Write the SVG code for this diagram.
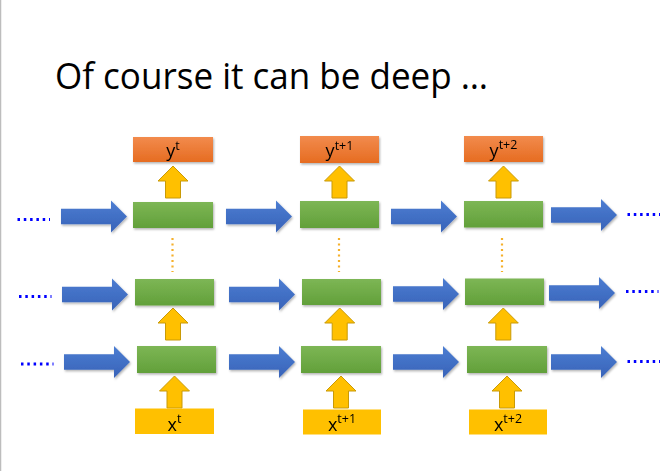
<svg xmlns="http://www.w3.org/2000/svg" xmlns:xlink="http://www.w3.org/1999/xlink" width="672" height="471" viewBox="0 0 672 471">
<style>
.title{font-family:"Open Sans","Noto Sans","Liberation Sans",sans-serif;font-size:37px;fill:#000}
.lbl{font-family:"Open Sans","Noto Sans","Liberation Sans",sans-serif;font-size:18px;fill:#000;text-anchor:middle}
.sup{font-size:12.5px}
.green{fill:url(#gGreen)}
.orange{fill:url(#gOrange)}
.xin{fill:#FFC000}
.blue{fill:url(#gBlue)}
.up{fill:#FFC000;stroke:#C99A06;stroke-width:1}
.dots{stroke:#0000FF;stroke-width:3;stroke-dasharray:2.5 3.8;fill:none}
.vdots{stroke:#F5B02A;stroke-width:2.2;stroke-dasharray:2 3.5;fill:none}
</style>
<defs>
<linearGradient id="gGreen" x1="0" y1="0" x2="0" y2="1"><stop offset="0" stop-color="#7DB655"/><stop offset="1" stop-color="#62A03A"/></linearGradient>
<linearGradient id="gOrange" x1="0" y1="0" x2="0" y2="1"><stop offset="0" stop-color="#F28B4D"/><stop offset="1" stop-color="#E66C21"/></linearGradient>
<linearGradient id="gBlue" x1="0" y1="0" x2="0" y2="1"><stop offset="0" stop-color="#4C7DD2"/><stop offset="1" stop-color="#3863B8"/></linearGradient>
<filter id="sh" x="-10%" y="-20%" width="130%" height="160%"><feDropShadow dx="1" dy="1.5" stdDeviation="1" flood-color="#000" flood-opacity="0.3"/></filter>
<path id="rarrow" d="M0,-7.8 L50,-7.8 L50,-16 L66,0 L50,16 L50,7.8 L0,7.8 Z"/>
<path id="uarrow" d="M-15,15 L0,0 L15,15 L7.5,15 L7.5,32 L-7.5,32 L-7.5,15 Z"/>
</defs>
<rect width="672" height="471" fill="#fff"/>
<line x1="0.5" y1="0" x2="0.5" y2="471" stroke="#BDBDBD" stroke-width="1.5"/>
<text class="title" x="55" y="89" textLength="433" lengthAdjust="spacingAndGlyphs">Of course it can be deep …</text>

<g id="connectors">
  <g class="blue" filter="url(#sh)">
    <use xlink:href="#rarrow" x="61" y="216.5"/>
    <use xlink:href="#rarrow" x="226" y="216.5"/>
    <use xlink:href="#rarrow" x="391" y="216.5"/>
    <use xlink:href="#rarrow" x="551" y="215"/>
    <use xlink:href="#rarrow" x="62" y="294.5"/>
    <use xlink:href="#rarrow" x="229" y="294.5"/>
    <use xlink:href="#rarrow" x="393" y="294"/>
    <use xlink:href="#rarrow" x="549" y="293"/>
    <use xlink:href="#rarrow" x="64" y="362"/>
    <use xlink:href="#rarrow" x="229" y="362"/>
    <use xlink:href="#rarrow" x="393" y="362"/>
    <use xlink:href="#rarrow" x="551" y="362"/>
  </g>
  <g class="up">
    <use xlink:href="#uarrow" x="173" y="166"/>
    <use xlink:href="#uarrow" x="339.5" y="166"/>
    <use xlink:href="#uarrow" x="503.5" y="166"/>
    <use xlink:href="#uarrow" x="173" y="308"/>
    <use xlink:href="#uarrow" x="339.7" y="308"/>
    <use xlink:href="#uarrow" x="503.3" y="308"/>
    <use xlink:href="#uarrow" x="174.5" y="376"/>
    <use xlink:href="#uarrow" x="341" y="376"/>
    <use xlink:href="#uarrow" x="507" y="376"/>
  </g>
  <g>
    <line class="vdots" x1="172.5" y1="238" x2="172.5" y2="272"/>
    <line class="vdots" x1="339" y1="238" x2="339" y2="272"/>
    <line class="vdots" x1="502" y1="238" x2="502" y2="272"/>
  </g>
  <g>
    <line class="dots" x1="17.5" y1="219.5" x2="50" y2="219.5"/>
    <line class="dots" x1="19" y1="296.5" x2="51.5" y2="296.5"/>
    <line class="dots" x1="21" y1="364" x2="53.5" y2="364"/>
    <line class="dots" x1="627.5" y1="214.5" x2="660" y2="214.5"/>
    <line class="dots" x1="626" y1="291.5" x2="658.5" y2="291.5"/>
    <line class="dots" x1="627.5" y1="361.5" x2="660" y2="361.5"/>
  </g>
</g>

<g id="y_t"><rect class="orange" x="133" y="137" width="80" height="25" filter="url(#sh)"/><text class="lbl" x="173" y="157">y<tspan class="sup" dy="-7.5">t</tspan></text></g>
<g id="y_t1"><rect class="orange" x="300" y="136" width="79" height="27" filter="url(#sh)"/><text class="lbl" x="339.5" y="157">y<tspan class="sup" dy="-7.5">t+1</tspan></text></g>
<g id="y_t2"><rect class="orange" x="464" y="136" width="79" height="26" filter="url(#sh)"/><text class="lbl" x="503.5" y="156.5">y<tspan class="sup" dy="-7.5">t+2</tspan></text></g>

<g id="h3_t"><rect class="green" x="133" y="202" width="80" height="26" filter="url(#sh)"/></g>
<g id="h3_t1"><rect class="green" x="300" y="201" width="79" height="27" filter="url(#sh)"/></g>
<g id="h3_t2"><rect class="green" x="464" y="201" width="79" height="26.5" filter="url(#sh)"/></g>

<g id="h2_t"><rect class="green" x="135" y="279" width="79" height="26.5" filter="url(#sh)"/></g>
<g id="h2_t1"><rect class="green" x="302" y="279" width="79" height="26" filter="url(#sh)"/></g>
<g id="h2_t2"><rect class="green" x="465" y="278.5" width="79" height="26.5" filter="url(#sh)"/></g>

<g id="h1_t"><rect class="green" x="137" y="346" width="79" height="27" filter="url(#sh)"/></g>
<g id="h1_t1"><rect class="green" x="301" y="346" width="80" height="27" filter="url(#sh)"/></g>
<g id="h1_t2"><rect class="green" x="467" y="346" width="80" height="27" filter="url(#sh)"/></g>

<g id="x_t"><rect class="xin" x="135" y="408.5" width="79" height="25.5"/><text class="lbl" x="174.5" y="430.5">x<tspan class="sup" dy="-7.5">t</tspan></text></g>
<g id="x_t1"><rect class="xin" x="303" y="409.5" width="78" height="25"/><text class="lbl" x="342" y="430.5">x<tspan class="sup" dy="-7.5">t+1</tspan></text></g>
<g id="x_t2"><rect class="xin" x="469" y="409.5" width="78" height="25"/><text class="lbl" x="508" y="430.5">x<tspan class="sup" dy="-7.5">t+2</tspan></text></g>
</svg>
